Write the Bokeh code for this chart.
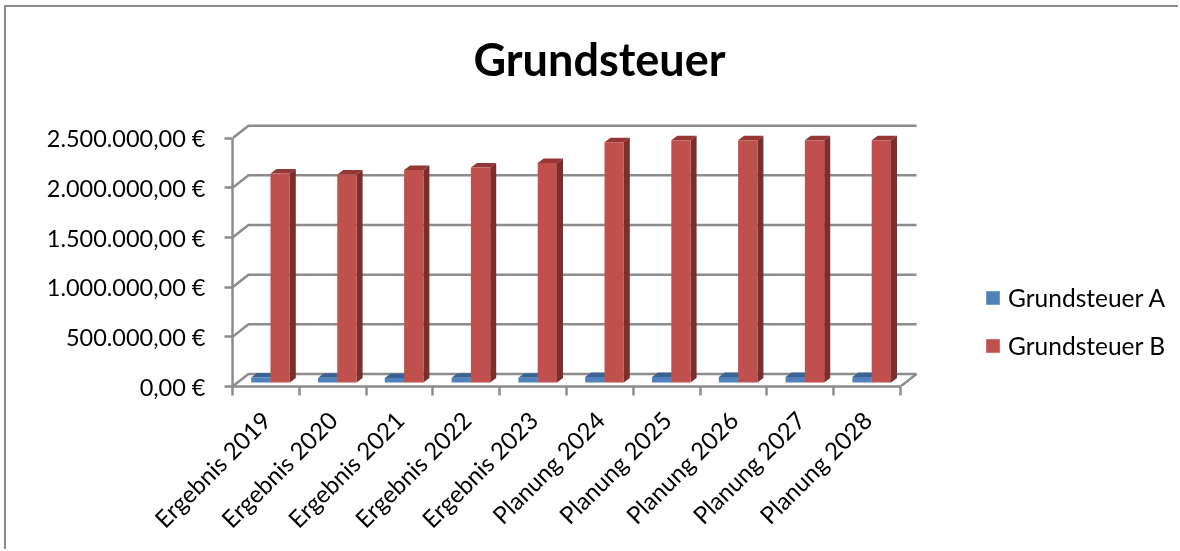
from bokeh.plotting import figure
from bokeh.embed import file_html
from bokeh.resources import INLINE
from bokeh.models import Range1d, LinearAxis, FixedTicker, Legend, LegendItem

TITLE = "Grundsteuer"
categories = ["Ergebnis 2019", "Ergebnis 2020", "Ergebnis 2021", "Ergebnis 2022", "Ergebnis 2023",
              "Planung 2024", "Planung 2025", "Planung 2026", "Planung 2027", "Planung 2028"]
grundsteuer_a = [50000, 48000, 46000, 47000, 47000, 55000, 55000, 55000, 55000, 55000]
grundsteuer_b = [2105000, 2095000, 2140000, 2165000, 2210000, 2420000, 2440000, 2440000, 2440000, 2440000]
y_ticks = [0, 500000, 1000000, 1500000, 2000000, 2500000]
y_labels = ["0,00 €", "500.000,00 €", "1.000.000,00 €", "1.500.000,00 €", "2.000.000,00 €", "2.500.000,00 €"]

FONT = "Lato"
GRAY = "#8c8c8c"
LW = 2.5
PX_X = 66.8
PX_Y = 248.3 / 2500000
DX, DY = 16 / PX_X, 12.5 / PX_Y          # wall depth
BDX, BDY = 6 / PX_X, 4.5 / PX_Y          # bar depth
BASE = 4 / PX_Y                          # bars stand on the floor, behind the front edge
BW = 19.3 / PX_X
A_L, B_L = -0.5 + 18.7 / PX_X, -0.5 + 38 / PX_X

W, H = 1174, 544
BL, BT, BB = 226, 83, 165
p = figure(width=W, height=H, output_backend="svg", toolbar_location=None,
           x_range=Range1d(-0.5, -0.5 + (W - BL) / PX_X),
           y_range=Range1d(0, (H - BT - BB) / PX_Y),
           x_axis_type=None, y_axis_type=None,
           min_border_left=BL, min_border_right=0, min_border_top=BT, min_border_bottom=BB,
           outline_line_color=None, background_fill_color="white", border_fill_color="white",
           styles={"position": "fixed", "left": "4px", "top": "5px",
                   "border-left": "2px solid " + GRAY, "border-top": "2px solid " + GRAY})
p.grid.visible = False

p.title.text = TITLE
p.title.text_font = FONT
p.title.text_font_size = "45px"
p.title.text_font_style = "bold"
p.title.text_color = "black"
p.title.align = "left"
p.title.offset = 241
p.title.standoff = 10

# walls: front-left edge -> back edge -> along the back, one per tick
x0, x1 = -0.5, 9.5
xs = [[x0, x0 + DX, x1 + DX] for _ in y_ticks]
ys = [[t, t + DY, t + DY] for t in y_ticks]
p.multi_line(xs, ys, line_color=GRAY, line_width=LW)
p.line([x1, x1 + DX], [0, DY], line_color=GRAY, line_width=LW)


def bars(left, values, front, top_c, side_c):
    rights = [i + left + BW for i in range(len(values))]
    lefts = [i + left for i in range(len(values))]
    tops = [v + BASE for v in values]
    p.patches([[l, l + BDX, r + BDX, r] for l, r in zip(lefts, rights)],
              [[t, t + BDY, t + BDY, t] for t in tops], fill_color=top_c, line_color=None)
    p.patches([[r, r + BDX, r + BDX, r] for r in rights],
              [[BASE, BASE + BDY, t + BDY, t] for t in tops], fill_color=side_c, line_color=None)
    return p.quad(left=lefts, right=rights, bottom=BASE, top=tops, fill_color=front, line_color=None)


ra = bars(A_L, grundsteuer_a, "#4f81bd", "#3a6391", "#376092")
rb = bars(B_L, grundsteuer_b, "#c0504d", "#953735", "#7a2f2d")

yax = LinearAxis(ticker=FixedTicker(ticks=y_ticks),
                 major_label_overrides=dict(zip(y_ticks, y_labels)))
yax.axis_line_color = GRAY
yax.axis_line_width = LW
yax.major_tick_line_color = GRAY
yax.major_tick_line_width = LW
yax.major_tick_out = 8
yax.major_tick_in = 0
yax.minor_tick_line_color = None
yax.major_label_standoff = 19
yax.major_label_text_font = FONT
yax.major_label_text_font_size = "23.5px"
yax.major_label_text_color = "black"
yax.bounds = (0, 2500000)
p.add_layout(yax, "left")

xax = LinearAxis(ticker=FixedTicker(ticks=list(range(len(categories))),
                                    minor_ticks=[i - 0.5 for i in range(len(categories) + 1)]),
                 major_label_overrides=dict(zip(range(len(categories)), categories)))
xax.axis_line_color = GRAY
xax.axis_line_width = LW
xax.major_tick_line_color = None
xax.major_tick_out = 0
xax.major_tick_in = 0
xax.minor_tick_line_color = GRAY
xax.minor_tick_line_width = LW
xax.minor_tick_out = 9
xax.minor_tick_in = 0
xax.major_label_orientation = 0.785
xax.major_label_standoff = 20
xax.major_label_text_font = FONT
xax.major_label_text_font_size = "24px"
xax.major_label_text_color = "black"
xax.bounds = (-0.5, 9.5)
p.add_layout(xax, "below")

leg = Legend(items=[LegendItem(label="Grundsteuer A", renderers=[ra]),
                    LegendItem(label="Grundsteuer B", renderers=[rb])],
             location=(752, 26), orientation="vertical",
             glyph_width=17, glyph_height=17, spacing=19, label_height=15, label_standoff=7,
             padding=0, margin=0, border_line_color=None, background_fill_alpha=0,
             label_text_font=FONT, label_text_font_size="24.5px", label_text_color="black",
             label_text_baseline="middle")
p.add_layout(leg, "center")

open("out.html", "w").write(file_html(p, INLINE))
